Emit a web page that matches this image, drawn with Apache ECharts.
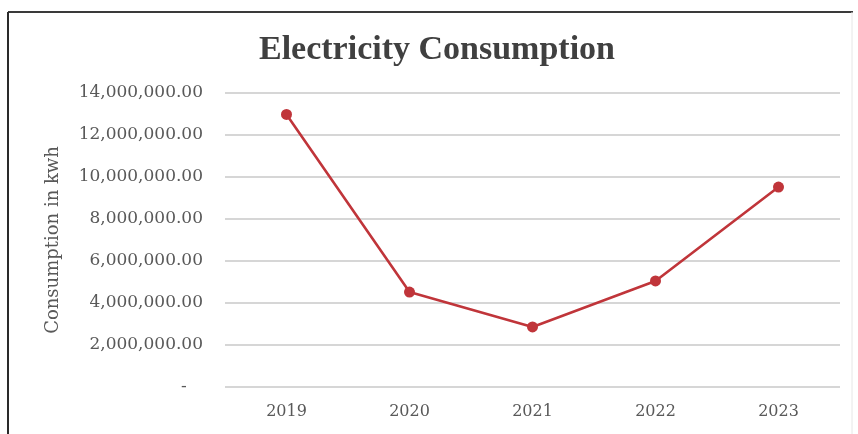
<!DOCTYPE html>
<html>
<head>
<meta charset="utf-8">
<script src="https://cdn.jsdelivr.net/npm/echarts@6/dist/echarts.min.js"></script>
<style>
  html, body { margin: 0; padding: 0; background: #ffffff; }
  #chart { width: 858px; height: 434px; }
</style>
</head>
<body>
<div id="chart"></div>
<script>
// Yearly electricity use (kWh)
const years = ['2019', '2020', '2021', '2022', '2023'];
const consumption = [12980000, 4520000, 2860000, 5050000, 9520000];
const yTicks = [0, 2000000, 4000000, 6000000, 8000000, 10000000, 12000000, 14000000];

const labelFont = 'DejaVu Serif';
const textGray = '#595959';

function accounting(v) {
  if (v === 0) return '-   ';
  const parts = v.toFixed(2).split('.');
  parts[0] = parts[0].replace(/\B(?=(\d{3})+(?!\d))/g, ',');
  return parts.join('.');
}

const chart = echarts.init(document.getElementById('chart'), null, { renderer: 'canvas' });
chart.setOption({
  animation: false,
  backgroundColor: '#ffffff',
  title: {
    text: 'Electricity Consumption',
    left: 432,
    top: 28,
    textAlign: 'center',
    textStyle: {
      fontFamily: 'Liberation Serif',
      fontWeight: 'bold',
      fontSize: 34,
      color: '#404040'
    }
  },
  grid: { left: 225, right: 18, top: 93, bottom: 47 },
  xAxis: {
    type: 'category',
    data: years,
    boundaryGap: true,
    axisLine: { show: false },
    axisTick: { show: false },
    axisLabel: {
      margin: 17,
      fontFamily: labelFont,
      fontSize: 16,
      color: textGray
    }
  },
  yAxis: {
    type: 'value',
    min: yTicks[0],
    max: yTicks[yTicks.length - 1],
    interval: yTicks[1] - yTicks[0],
    name: 'Consumption in kwh',
    nameLocation: 'middle',
    nameGap: 163,
    nameTextStyle: {
      fontFamily: labelFont,
      fontSize: 18,
      color: textGray
    },
    axisLine: { show: false },
    axisTick: { show: false },
    axisLabel: {
      margin: 22,
      fontFamily: labelFont,
      fontSize: 17,
      color: textGray,
      formatter: accounting
    },
    splitLine: { lineStyle: { color: '#d6d6d6', width: 1.8 } }
  },
  series: [{
    type: 'line',
    data: consumption,
    symbol: 'circle',
    symbolSize: 11,
    lineStyle: { color: '#c0353a', width: 2.6 },
    itemStyle: { color: '#c0353a' }
  }],
  graphic: [
    { type: 'line', shape: { x1: 8, y1: 12, x2: 853, y2: 12 }, style: { stroke: '#3a3a3a', lineWidth: 2 } },
    { type: 'line', shape: { x1: 8, y1: 12, x2: 8, y2: 434 }, style: { stroke: '#2a2a2a', lineWidth: 2 } },
    { type: 'line', shape: { x1: 852, y1: 12, x2: 852, y2: 434 }, style: { stroke: '#e6e6e6', lineWidth: 1 } }
  ]
});
</script>
</body>
</html>
